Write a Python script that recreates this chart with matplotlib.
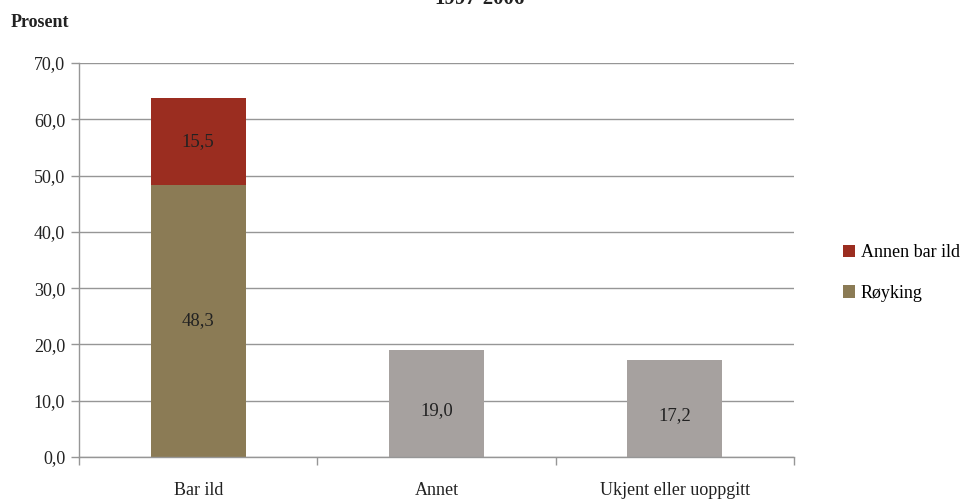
import matplotlib.pyplot as plt
import numpy as np

# --- Data ---
categories = ["Bar ild", "Annet", "Ukjent eller uoppgitt"]
royking = [48.3, 0, 0]
annen_bar_ild = [15.5, 0, 0]
other = [0, 19.0, 17.2]
yticks = np.arange(0, 71, 10)

plt.rcParams['font.family'] = ['Liberation Serif', 'DejaVu Serif']

c_red = '#9B2D20'
c_olive = '#8B7B55'
c_grey = '#A6A19F'
c_axis = '#969696'

fig = plt.figure(figsize=(9.71, 5.0), dpi=100)
ax = fig.add_axes([0.0814, 0.086, 0.7363, 0.788])

x = np.arange(len(categories))
w = 0.4
b1 = ax.bar(x[:1], royking[:1], width=w, color=c_olive, label='Røyking', zorder=2)
b2 = ax.bar(x[:1], annen_bar_ild[:1], bottom=royking[:1], width=w, color=c_red,
            label='Annen bar ild', zorder=2)
b3 = ax.bar(x[1:], other[1:], width=w, color=c_grey, zorder=2)

def fmt(v):
    return f'{v:.1f}'.replace('.', ',')

ax.text(x[0], royking[0] / 2, fmt(royking[0]), ha='center', va='center', fontsize=13.5, color='#222222', zorder=3)
ax.text(x[0], royking[0] + annen_bar_ild[0] / 2, fmt(annen_bar_ild[0]), ha='center', va='center',
        fontsize=13.5, color='#222222', zorder=3)
for xi, v in zip(x[1:], other[1:]):
    ax.text(xi, v / 2 - 1.3, fmt(v), ha='center', va='center', fontsize=13.5, color='#222222', zorder=3)

ax.set_xlim(-0.5, len(categories) - 0.5)
ax.set_ylim(0, 70)
ax.set_yticks(yticks)
ax.set_yticklabels([fmt(t) for t in yticks], fontsize=13, color='#222222')
ax.yaxis.grid(True, color=c_axis, linewidth=1.0, zorder=0)
ax.set_axisbelow(True)

# category boundary ticks on x axis
ax.set_xticks(np.arange(-0.5, len(categories)), minor=False)
ax.set_xticklabels([])
ax.set_xticks(x, minor=True)
ax.set_xticklabels(categories, minor=True, fontsize=13, color='#222222')
ax.tick_params(axis='x', which='major', length=6, color=c_axis, width=1)
ax.tick_params(axis='x', which='minor', length=0, pad=18)
ax.tick_params(axis='y', length=6, color=c_axis, width=1, pad=4)

for s in ['top', 'right']:
    ax.spines[s].set_visible(False)
for s in ['left', 'bottom']:
    ax.spines[s].set_color(c_axis)
    ax.spines[s].set_linewidth(1.0)

fig.text(0.011, 0.955, 'Prosent', fontsize=13, fontweight='bold', color='#222222', va='center')
fig.text(0.494, 0.993, '1997-2006', fontsize=15, fontweight='bold', color='#222222', ha='center', va='baseline')

handles = [b2, b1]
ax.legend(handles, ['Annen bar ild', 'Røyking'], loc='center left', bbox_to_anchor=(0.851, 0.454),
          bbox_transform=fig.transFigure, frameon=False, fontsize=13, handlelength=0.7,
          handleheight=0.7, handletextpad=0.3, labelspacing=1.3)

fig.savefig('out.png', dpi=100)
